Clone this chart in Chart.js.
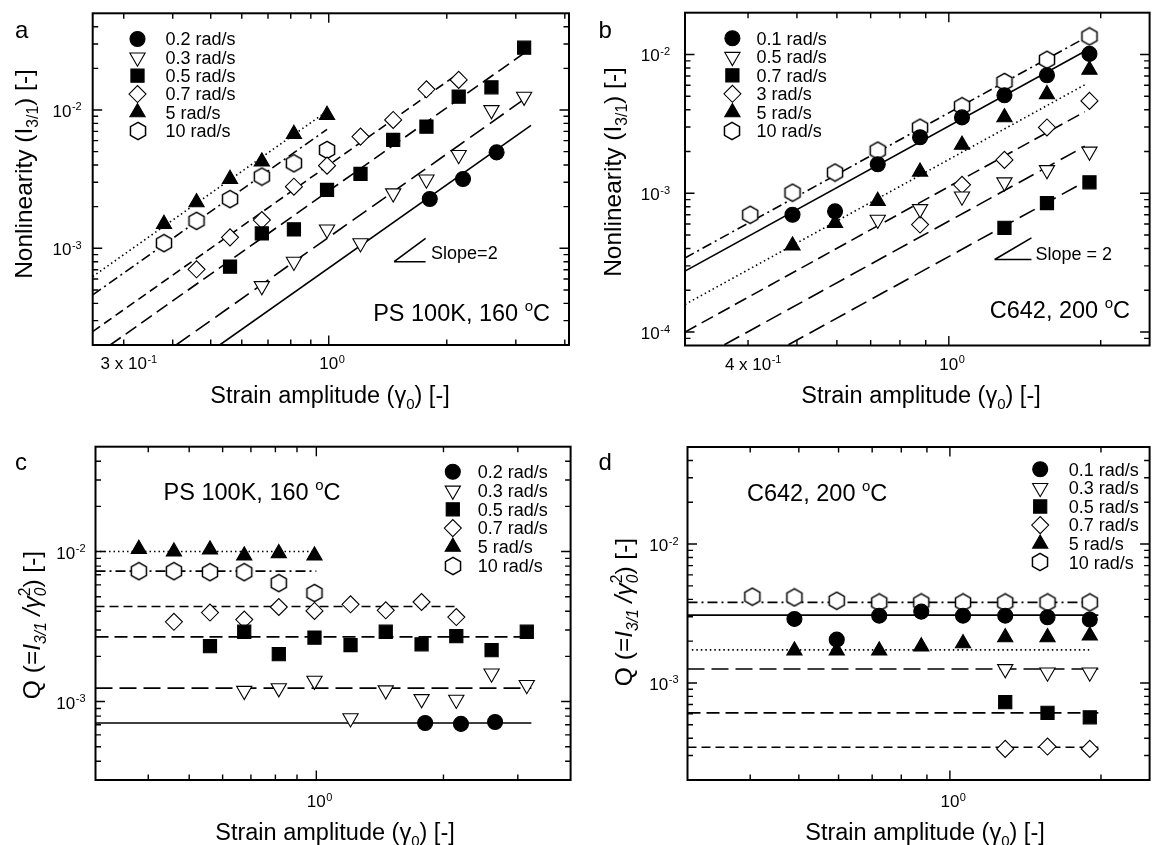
<!DOCTYPE html>
<html>
<head>
<meta charset="utf-8">
<script src="https://cdn.jsdelivr.net/npm/chart.js@4"></script>
<style>
  body { margin: 0; background: #fff; }
  #wrap { position: relative; width: 1160px; height: 845px; }
  #wrap canvas { position: absolute; left: 0; top: 0; }
</style>
</head>
<body>
<div id="wrap">
  <canvas id="pa" width="1160" height="845"></canvas>
  <canvas id="pb" width="1160" height="845"></canvas>
  <canvas id="pc" width="1160" height="845"></canvas>
  <canvas id="pd" width="1160" height="845"></canvas>
</div>
<script>
// ---------- data ----------
// panel a : PS 100K, 160 C, I3/1 vs strain amplitude
const aLabels = ['0.2 rad/s', '0.3 rad/s', '0.5 rad/s', '0.7 rad/s', '5 rad/s', '10 rad/s'];
const aX02 = [1.81, 2.20, 2.68];
const aY02 = [2.27e-3, 3.17e-3, 4.94e-3];
const aX03 = [0.675, 0.815, 0.99, 1.205, 1.46, 1.775, 2.145, 2.6, 3.15];
const aY03 = [5.34e-4, 8.0e-4, 1.37e-3, 1.09e-3, 2.50e-3, 3.15e-3, 4.73e-3, 1.0e-2, 1.25e-2];
const aX05 = [0.56, 0.675, 0.815, 0.99, 1.205, 1.46, 1.775, 2.145, 2.6, 3.15];
const aY05 = [7.37e-4, 1.28e-3, 1.37e-3, 2.64e-3, 3.45e-3, 6.07e-3, 7.58e-3, 1.25e-2, 1.46e-2, 2.82e-2];
const aX07 = [0.46, 0.56, 0.675, 0.815, 0.99, 1.205, 1.46, 1.775, 2.145];
const aY07 = [7.05e-4, 1.20e-3, 1.60e-3, 2.79e-3, 3.96e-3, 6.42e-3, 8.47e-3, 1.41e-2, 1.65e-2];
const aX5 = [0.38, 0.46, 0.56, 0.675, 0.815, 0.99];
const aY5 = [1.50e-3, 2.15e-3, 3.17e-3, 4.23e-3, 6.71e-3, 9.2e-3];
const aX10 = [0.38, 0.46, 0.56, 0.675, 0.815, 0.99];
const aY10 = [1.09e-3, 1.58e-3, 2.27e-3, 3.30e-3, 4.12e-3, 5.14e-3];
// fitted slope-2 lines, end points [x, y]
const aFit02 = [[0.527, 2.0e-4], [3.28, 7.75e-3]];
const aFit03 = [[0.408, 2.0e-4], [3.21, 1.24e-2]];
const aFit05 = [[0.277, 2.0e-4], [3.14, 2.56e-2]];
const aFit07 = [[0.25, 2.5e-4], [2.15, 1.85e-2]];
const aFit5 = [[0.25, 6.25e-4], [0.97, 9.4e-3]];
const aFit10 = [[0.25, 4.6e-4], [0.99, 7.25e-3]];
const aSlope = [[1.468, 8.0e-4], [1.766, 1.18e-3]];

// panel b : C642, 200 C, I3/1 vs strain amplitude
const bLabels = ['0.1 rad/s', '0.5 rad/s', '0.7 rad/s', '3 rad/s', '5 rad/s', '10 rad/s'];
const bX01 = [0.49, 0.595, 0.723, 0.877, 1.062, 1.289, 1.565, 1.90];
const bY01 = [7.0e-4, 7.41e-4, 1.62e-3, 2.53e-3, 3.52e-3, 5.08e-3, 7.08e-3, 1.01e-2];
const bX05 = [0.723, 0.877, 1.062, 1.289, 1.565, 1.90];
const bY05 = [6.46e-4, 7.7e-4, 9.5e-4, 1.20e-3, 1.47e-3, 2.0e-3];
const bX07 = [1.289, 1.565, 1.90];
const bY07 = [5.63e-4, 8.5e-4, 1.20e-3];
const bX3 = [0.877, 1.062, 1.289, 1.565, 1.90];
const bY3 = [5.95e-4, 1.15e-3, 1.74e-3, 2.98e-3, 4.63e-3];
const bX5 = [0.49, 0.595, 0.723, 0.877, 1.062, 1.289, 1.565, 1.90];
const bY5 = [4.2e-4, 6.1e-4, 8.8e-4, 1.43e-3, 2.23e-3, 3.52e-3, 5.17e-3, 7.76e-3];
const bX10 = [0.404, 0.49, 0.595, 0.723, 0.877, 1.062, 1.289, 1.565, 1.90];
const bY10 = [7.0e-4, 1.01e-3, 1.41e-3, 2.03e-3, 2.97e-3, 4.24e-3, 6.34e-3, 9.16e-3, 1.35e-2];
const bFit01 = [[0.3, 2.75e-4], [1.9, 1.10e-2]];
const bFit05 = [[0.359, 8.1e-5], [1.86, 2.18e-3]];
const bFit07 = [[0.481, 8.1e-5], [1.86, 1.21e-3]];
const bFit3 = [[0.3, 1.0e-4], [1.86, 3.87e-3]];
const bFit5 = [[0.3, 1.58e-4], [1.86, 6.05e-3]];
const bFit10 = [[0.3, 3.42e-4], [1.9, 1.37e-2]];
const bSlope = [[1.233, 3.33e-4], [1.458, 4.77e-4]];

// panel c : PS 100K, Q = I3/1 / gamma0^2
const cLabels = ['0.2 rad/s', '0.3 rad/s', '0.5 rad/s', '0.7 rad/s', '5 rad/s', '10 rad/s'];
const cX02 = [1.81, 2.20, 2.65];
const cY02 = [7.2e-4, 7.1e-4, 7.3e-4];
const cX03 = [0.675, 0.815, 0.99, 1.205, 1.46, 1.775, 2.145, 2.6, 3.15];
const cY03 = [1.18e-3, 1.23e-3, 1.38e-3, 7.75e-4, 1.19e-3, 1.04e-3, 1.03e-3, 1.54e-3, 1.29e-3];
const cX05 = [0.56, 0.675, 0.815, 0.99, 1.205, 1.46, 1.775, 2.145, 2.6, 3.15];
const cY05 = [2.34e-3, 2.92e-3, 2.07e-3, 2.67e-3, 2.38e-3, 2.92e-3, 2.41e-3, 2.73e-3, 2.20e-3, 2.92e-3];
const cX07 = [0.46, 0.56, 0.675, 0.815, 0.99, 1.205, 1.46, 1.775, 2.145];
const cY07 = [3.40e-3, 3.92e-3, 3.52e-3, 4.27e-3, 4.02e-3, 4.45e-3, 4.06e-3, 4.61e-3, 3.66e-3];
const cX5 = [0.38, 0.46, 0.56, 0.675, 0.815, 0.99];
const cY5 = [1.04e-2, 1.0e-2, 1.03e-2, 9.4e-3, 9.75e-3, 9.4e-3];
const cX10 = [0.38, 0.46, 0.56, 0.675, 0.815, 0.99];
const cY10 = [7.4e-3, 7.4e-3, 7.29e-3, 7.29e-3, 6.16e-3, 5.29e-3];
const cFit02 = [[0.3, 7.2e-4], [3.23, 7.2e-4]];
const cFit03 = [[0.3, 1.23e-3], [3.23, 1.23e-3]];
const cFit05 = [[0.3, 2.7e-3], [3.26, 2.7e-3]];
const cFit07 = [[0.3, 4.3e-3], [2.15, 4.3e-3]];
const cFit5 = [[0.3, 1.0e-2], [0.99, 1.0e-2]];
const cFit10 = [[0.3, 7.4e-3], [1.0, 7.4e-3]];

// panel d : C642, Q = I3/1 / gamma0^2
const dLabels = ['0.1 rad/s', '0.3 rad/s', '0.5 rad/s', '0.7 rad/s', '5 rad/s', '10 rad/s'];
const dX01 = [0.49, 0.595, 0.723, 0.877, 1.062, 1.289, 1.565, 1.90];
const dY01 = [2.89e-3, 2.05e-3, 3.05e-3, 3.26e-3, 3.05e-3, 3.05e-3, 2.97e-3, 2.86e-3];
const dX03 = [1.289, 1.565, 1.90];
const dY03 = [1.26e-3, 1.19e-3, 1.19e-3];
const dX05 = [1.289, 1.565, 1.90];
const dY05 = [7.26e-4, 6.09e-4, 5.66e-4];
const dX07 = [1.289, 1.565, 1.90];
const dY07 = [3.35e-4, 3.48e-4, 3.35e-4];
const dX5 = [0.49, 0.595, 0.723, 0.877, 1.062, 1.289, 1.565, 1.90];
const dY5 = [1.71e-3, 1.71e-3, 1.71e-3, 1.83e-3, 1.93e-3, 2.13e-3, 2.13e-3, 2.19e-3];
const dX10 = [0.404, 0.49, 0.595, 0.723, 0.877, 1.062, 1.289, 1.565, 1.90];
const dY10 = [4.18e-3, 4.13e-3, 3.91e-3, 3.80e-3, 3.80e-3, 3.80e-3, 3.80e-3, 3.80e-3, 3.80e-3];
const dFit01 = [[0.3, 3.08e-3], [1.976, 3.08e-3]];
const dFit03 = [[0.3, 1.26e-3], [1.976, 1.26e-3]];
const dFit05 = [[0.3, 6.09e-4], [1.976, 6.09e-4]];
const dFit07 = [[0.3, 3.44e-4], [1.976, 3.44e-4]];
const dFit5 = [[0.306, 1.73e-3], [1.895, 1.73e-3]];
const dFit10 = [[0.3, 3.8e-3], [1.91, 3.8e-3]];

// axis ranges and tick values
const aRangeX = [0.25, 4.1], aRangeY = [2e-4, 5e-2];
const bRangeX = [0.3, 2.5], bRangeY = [8e-5, 2e-2];
const cRangeX = [0.3, 4.0], cRangeY = [3e-4, 5e-2];
const dRangeX = [0.3, 2.5], dRangeY = [2e-4, 5e-2];
const aTicksX = [0.3, 0.4, 0.5, 0.6, 0.7, 0.8, 0.9, 1, 2, 3, 4];
const bTicksX = [0.4, 0.5, 0.6, 0.7, 0.8, 0.9, 1, 2];
const cTicksX = [0.4, 0.5, 0.6, 0.7, 0.8, 0.9, 1, 2, 3];
const dTicksX = [0.4, 0.5, 0.6, 0.7, 0.8, 0.9, 1, 2];
const aTicksY = [3e-4, 4e-4, 5e-4, 6e-4, 7e-4, 8e-4, 9e-4, 1e-3, 2e-3, 3e-3, 4e-3, 5e-3, 6e-3, 7e-3, 8e-3, 9e-3, 1e-2, 2e-2, 3e-2, 4e-2];
const bTicksY = [9e-5, 1e-4, 2e-4, 3e-4, 4e-4, 5e-4, 6e-4, 7e-4, 8e-4, 9e-4, 1e-3, 2e-3, 3e-3, 4e-3, 5e-3, 6e-3, 7e-3, 8e-3, 9e-3, 1e-2];
const cTicksY = [4e-4, 5e-4, 6e-4, 7e-4, 8e-4, 9e-4, 1e-3, 2e-3, 3e-3, 4e-3, 5e-3, 6e-3, 7e-3, 8e-3, 9e-3, 1e-2, 2e-2, 3e-2, 4e-2];
const dTicksY = aTicksY;
const majorTicks = [1e-4, 1e-3, 1e-2, 1];
// tick labels: [value, text, superscript]
const aLabelsX = [[0.3, '3 x 10', '-1'], [1, '10', '0']];
const bLabelsX = [[0.4, '4 x 10', '-1'], [1, '10', '0']];
const cdLabelsX = [[1, '10', '0']];
const aLabelsY = [[1e-3, '10', '-3'], [1e-2, '10', '-2']];
const bLabelsY = [[1e-4, '10', '-4'], [1e-3, '10', '-3'], [1e-2, '10', '-2']];

// ---------- styles ----------
const FONT = '"Liberation Sans", Arial, Helvetica, sans-serif';

const HEX = document.createElement('canvas');
HEX.width = 20; HEX.height = 20;
(function () {
  const c = HEX.getContext('2d');
  const R = 8.7;
  c.beginPath();
  for (let k = 0; k < 6; k++) {
    const a = Math.PI / 2 + k * Math.PI / 3;
    const px = 10 + R * Math.cos(a), py = 10 - R * Math.sin(a);
    if (k) c.lineTo(px, py); else c.moveTo(px, py);
  }
  c.closePath();
  c.fillStyle = '#fff'; c.fill();
  c.strokeStyle = '#000'; c.lineWidth = 1.5; c.stroke();
})();

// marker order: circle, open down-triangle, square, open diamond, triangle, open hexagon
const MARKERS = [
  { style: 'circle', r: 7.5, rot: 0, fill: '#000', order: 2 },
  { style: 'triangle', r: 8.8, rot: 180, fill: '#fff', order: 3 },
  { style: 'rect', r: 9.3, rot: 0, fill: '#000', order: 4 },
  { style: 'rectRot', r: 8.5, rot: 0, fill: '#fff', order: 5 },
  { style: 'triangle', r: 8.8, rot: 0, fill: '#000', order: 1 },
  { style: HEX, r: 8, rot: 0, fill: '#fff', order: 6 }
];
const DASH = {
  solid: [], long: [17, 7], med: [13, 6], short: [9, 5],
  dot: [1.5, 3], dashdot: [10, 4, 2, 4]
};

function pts(xs, ys) { return xs.map((x, i) => ({ x: x, y: ys[i] })); }

function markerSet(label, xs, ys, m) {
  return {
    label: label, data: pts(xs, ys), showLine: false,
    pointStyle: m.style, pointRadius: m.r, pointRotation: m.rot,
    pointBackgroundColor: m.fill, pointBorderColor: '#000', pointBorderWidth: 1.1,
    order: m.order
  };
}
function lineSet(ends, dash) {
  return {
    data: ends.map(p => ({ x: p[0], y: p[1] })), showLine: true, pointRadius: 0,
    borderColor: '#000', borderWidth: 1.6, borderDash: dash, fill: false, order: 10
  };
}
function slopeSets(s) {
  return [lineSet(s, DASH.solid), lineSet([s[0], [s[1][0], s[0][1]]], DASH.solid)];
}

// ---------- text helpers ----------
function richLayout(ctx, segs, size) {
  const items = [];
  let w = 0, prevStart = 0;
  for (const s of segs) {
    const sz = (s.sub || s.sup) ? size * 0.64 : size;
    const font = (s.it ? 'italic ' : '') + sz.toFixed(1) + 'px ' + FONT;
    ctx.font = font;
    const sw = ctx.measureText(s.t).width;
    let x0;
    if (s.stack) { x0 = prevStart; w = Math.max(w, prevStart + sw); }
    else { x0 = w; prevStart = x0; w += sw; }
    const dy = s.sub ? size * 0.25 : s.sup ? -size * 0.42 : 0;
    items.push({ t: s.t, font: font, x0: x0, dy: dy });
  }
  return { items: items, w: w };
}
function drawRich(ctx, segs, x, y, size, align) {
  const L = richLayout(ctx, segs, size);
  const sx = align === 'center' ? x - L.w / 2 : align === 'right' ? x - L.w : x;
  ctx.textAlign = 'left'; ctx.textBaseline = 'alphabetic';
  for (const it of L.items) { ctx.font = it.font; ctx.fillText(it.t, sx + it.x0, y + it.dy); }
}
function drawMarker(ctx, m, x, y) {
  if (typeof m.style !== 'string') {
    ctx.drawImage(m.style, Math.round(x - m.style.width / 2), Math.round(y - m.style.height / 2));
    return;
  }
  const r = m.r;
  let a = m.rot * Math.PI / 180;
  ctx.beginPath();
  if (m.style === 'circle') {
    ctx.arc(x, y, r, 0, Math.PI * 2);
  } else if (m.style === 'triangle') {
    ctx.moveTo(x + Math.sin(a) * r, y - Math.cos(a) * r);
    a += Math.PI * 2 / 3;
    ctx.lineTo(x + Math.sin(a) * r, y - Math.cos(a) * r);
    a += Math.PI * 2 / 3;
    ctx.lineTo(x + Math.sin(a) * r, y - Math.cos(a) * r);
    ctx.closePath();
  } else if (m.style === 'rect') {
    const s = Math.SQRT1_2 * r;
    ctx.rect(x - s, y - s, 2 * s, 2 * s);
  } else {
    ctx.moveTo(x - r, y); ctx.lineTo(x, y - r); ctx.lineTo(x + r, y); ctx.lineTo(x, y + r);
    ctx.closePath();
  }
  ctx.fillStyle = m.fill; ctx.fill();
  ctx.strokeStyle = '#000'; ctx.lineWidth = 1.1; ctx.stroke();
}

// ---------- decorations: frame, ticks, labels, legend, notes ----------
function makeDeco(P) {
  return {
    id: 'deco' + P.id,
    afterDraw(chart) {
      const ctx = chart.ctx, ca = chart.chartArea;
      const xs = chart.scales.x, ys = chart.scales.y;
      ctx.save();
      ctx.fillStyle = '#000';
      ctx.strokeStyle = '#000';

      // inward ticks on all four sides
      ctx.lineWidth = 1.4;
      ctx.beginPath();
      P.ticksX.forEach(v => {
        const px = xs.getPixelForValue(v);
        const len = majorTicks.includes(v) ? 9.5 : 5.5;
        ctx.moveTo(px, ca.bottom); ctx.lineTo(px, ca.bottom - len);
        ctx.moveTo(px, ca.top); ctx.lineTo(px, ca.top + len);
      });
      P.ticksY.forEach(v => {
        const py = ys.getPixelForValue(v);
        const len = majorTicks.includes(v) ? 9.5 : 5.5;
        ctx.moveTo(ca.left, py); ctx.lineTo(ca.left + len, py);
        ctx.moveTo(ca.right, py); ctx.lineTo(ca.right - len, py);
      });
      ctx.stroke();

      // frame
      ctx.lineWidth = 2;
      ctx.strokeRect(ca.left, ca.top, ca.right - ca.left, ca.bottom - ca.top);

      // tick labels
      ctx.textBaseline = 'alphabetic';
      P.labelsX.forEach(l => {
        const px = xs.getPixelForValue(l[0]);
        ctx.font = '17px ' + FONT;
        const mw = ctx.measureText(l[1]).width;
        ctx.textAlign = 'left';
        ctx.fillText(l[1], px - mw / 2, ca.bottom + P.xLabelDy);
        ctx.font = '11px ' + FONT;
        ctx.fillText(l[2], px + mw / 2 + 0.5, ca.bottom + P.xLabelDy - 6.5);
      });
      P.labelsY.forEach(l => {
        const py = ys.getPixelForValue(l[0]);
        ctx.font = '11px ' + FONT;
        const sw = ctx.measureText(l[2]).width;
        ctx.font = '17px ' + FONT;
        const mw = ctx.measureText(l[1]).width;
        const x0 = ca.left - P.yLabelGap - sw - mw - 0.5;
        ctx.textAlign = 'left';
        ctx.fillText(l[1], x0, py + 7);
        ctx.font = '11px ' + FONT;
        ctx.fillText(l[2], x0 + mw + 0.5, py + 0.5);
      });

      // axis titles
      drawRich(ctx, P.xTitle, P.xTitlePos[0], P.xTitlePos[1], 23.5, 'center');
      ctx.save();
      ctx.translate(P.yTitlePos[0], P.yTitlePos[1]);
      ctx.rotate(-Math.PI / 2);
      drawRich(ctx, P.yTitle, 0, 0, P.yTitleSize, 'center');
      ctx.restore();

      // panel letter
      ctx.font = '24px ' + FONT;
      ctx.textAlign = 'left';
      ctx.fillText(P.letter, P.letterPos[0], P.letterPos[1]);

      // legend
      P.legend.labels.forEach((txt, i) => {
        const y = P.legend.y0 + i * P.legend.dy;
        drawMarker(ctx, MARKERS[i], P.legend.mx, y);
        ctx.fillStyle = '#000';
        ctx.font = '18px ' + FONT;
        ctx.textAlign = 'left';
        ctx.fillText(txt, P.legend.tx, y + 6.3);
      });

      // sample note
      ctx.fillStyle = '#000';
      drawRich(ctx, P.note, P.notePos[0], P.notePos[1], 23.5, P.noteAlign);

      // slope label next to the slope triangle
      if (P.slope) {
        const px = xs.getPixelForValue(P.slope.ends[1][0]);
        const py = ys.getPixelForValue(P.slope.ends[0][1]);
        ctx.font = '18px ' + FONT;
        ctx.textAlign = 'left';
        ctx.fillText(P.slope.text, px + P.slope.dx, py + P.slope.dy);
      }
      ctx.restore();
    }
  };
}

function makePanel(P, datasets) {
  const W = 1160, H = 845;
  new Chart(document.getElementById(P.id), {
    type: 'scatter',
    data: { datasets: datasets },
    options: {
      responsive: false, animation: false, devicePixelRatio: 1, events: [],
      layout: { padding: { left: P.box.l, top: P.box.t, right: W - P.box.r, bottom: H - P.box.b } },
      plugins: { legend: { display: false }, tooltip: { enabled: false }, title: { display: false } },
      scales: {
        x: { type: 'logarithmic', min: P.rangeX[0], max: P.rangeX[1], display: false },
        y: { type: 'logarithmic', min: P.rangeY[0], max: P.rangeY[1], display: false }
      }
    },
    plugins: [makeDeco(P)]
  });
}

const xTitle = [{ t: 'Strain amplitude (\u03b3' }, { t: '0', sub: 1 }, { t: ') [-]' }];
const nlTitle = [{ t: 'Nonlinearity (I' }, { t: '3/1', sub: 1 }, { t: ') [-]' }];
const qTitle = [{ t: 'Q (=' }, { t: 'I', it: 1 }, { t: '3/1', sub: 1, it: 1 }, { t: ' /\u03b3', it: 1 },
  { t: '0', sub: 1, it: 1 }, { t: '2', sup: 1, stack: 1 }, { t: ') [-]' }];
const psNote = [{ t: 'PS 100K, 160 ' }, { t: 'o', sup: 1 }, { t: 'C' }];
const cNote = [{ t: 'C642, 200 ' }, { t: 'o', sup: 1 }, { t: 'C' }];

// ---------- panel a ----------
makePanel({
  id: 'pa', box: { l: 92.7, t: 13.3, r: 569, b: 345 }, rangeX: aRangeX, rangeY: aRangeY,
  ticksX: aTicksX, ticksY: aTicksY, labelsX: aLabelsX, labelsY: aLabelsY,
  xLabelDy: 24, yLabelGap: 11,
  xTitle: xTitle, xTitlePos: [330, 403], yTitle: nlTitle, yTitlePos: [31.5, 174], yTitleSize: 24.5,
  letter: 'a', letterPos: [15, 38],
  legend: { labels: aLabels, mx: 137.5, tx: 165.4, y0: 39, dy: 18.35 },
  note: psNote, notePos: [550, 321], noteAlign: 'right',
  slope: { ends: aSlope, text: 'Slope=2', dx: 5.5, dy: -3 }
}, [
  markerSet(aLabels[0], aX02, aY02, MARKERS[0]),
  markerSet(aLabels[1], aX03, aY03, MARKERS[1]),
  markerSet(aLabels[2], aX05, aY05, MARKERS[2]),
  markerSet(aLabels[3], aX07, aY07, MARKERS[3]),
  markerSet(aLabels[4], aX5, aY5, MARKERS[4]),
  markerSet(aLabels[5], aX10, aY10, MARKERS[5]),
  lineSet(aFit02, DASH.solid), lineSet(aFit03, DASH.long), lineSet(aFit05, DASH.med),
  lineSet(aFit07, DASH.short), lineSet(aFit5, DASH.dot), lineSet(aFit10, DASH.dashdot),
  ...slopeSets(aSlope)
]);

// ---------- panel b ----------
makePanel({
  id: 'pb', box: { l: 685, t: 12.7, r: 1157.5, b: 345.5 }, rangeX: bRangeX, rangeY: bRangeY,
  ticksX: bTicksX, ticksY: bTicksY, labelsX: bLabelsX, labelsY: bLabelsY,
  xLabelDy: 24, yLabelGap: 15,
  xTitle: xTitle, xTitlePos: [921, 403], yTitle: nlTitle, yTitlePos: [620.5, 172], yTitleSize: 24.5,
  letter: 'b', letterPos: [598.6, 38],
  legend: { labels: bLabels, mx: 732.4, tx: 756.6, y0: 38.3, dy: 18.5 },
  note: cNote, notePos: [1130, 318], noteAlign: 'right',
  slope: { ends: bSlope, text: 'Slope = 2', dx: 4, dy: 0.5 }
}, [
  markerSet(bLabels[0], bX01, bY01, MARKERS[0]),
  markerSet(bLabels[1], bX05, bY05, MARKERS[1]),
  markerSet(bLabels[2], bX07, bY07, MARKERS[2]),
  markerSet(bLabels[3], bX3, bY3, MARKERS[3]),
  markerSet(bLabels[4], bX5, bY5, MARKERS[4]),
  markerSet(bLabels[5], bX10, bY10, MARKERS[5]),
  lineSet(bFit01, DASH.solid), lineSet(bFit05, DASH.long), lineSet(bFit07, DASH.long),
  lineSet(bFit3, DASH.med), lineSet(bFit5, DASH.dot), lineSet(bFit10, DASH.dashdot),
  ...slopeSets(bSlope)
]);

// ---------- panel c ----------
makePanel({
  id: 'pc', box: { l: 95.5, t: 446.7, r: 570.6, b: 780 }, rangeX: cRangeX, rangeY: cRangeY,
  ticksX: cTicksX, ticksY: cTicksY, labelsX: cdLabelsX, labelsY: aLabelsY,
  xLabelDy: 27, yLabelGap: 10,
  xTitle: xTitle, xTitlePos: [335, 840], yTitle: qTitle, yTitlePos: [40, 625], yTitleSize: 24.5,
  letter: 'c', letterPos: [15, 470],
  legend: { labels: cLabels, mx: 452.8, tx: 477.7, y0: 471.7, dy: 18.8 },
  note: psNote, notePos: [163.6, 499.7], noteAlign: 'left'
}, [
  markerSet(cLabels[0], cX02, cY02, MARKERS[0]),
  markerSet(cLabels[1], cX03, cY03, MARKERS[1]),
  markerSet(cLabels[2], cX05, cY05, MARKERS[2]),
  markerSet(cLabels[3], cX07, cY07, MARKERS[3]),
  markerSet(cLabels[4], cX5, cY5, MARKERS[4]),
  markerSet(cLabels[5], cX10, cY10, MARKERS[5]),
  lineSet(cFit02, DASH.solid), lineSet(cFit03, DASH.long), lineSet(cFit05, DASH.med),
  lineSet(cFit07, DASH.short), lineSet(cFit5, DASH.dot), lineSet(cFit10, DASH.dashdot)
]);

// ---------- panel d ----------
makePanel({
  id: 'pd', box: { l: 687.5, t: 447, r: 1159, b: 780 }, rangeX: dRangeX, rangeY: dRangeY,
  ticksX: dTicksX, ticksY: dTicksY, labelsX: cdLabelsX, labelsY: aLabelsY,
  xLabelDy: 27, yLabelGap: 9,
  xTitle: xTitle, xTitlePos: [925, 840], yTitle: qTitle, yTitlePos: [632, 612], yTitleSize: 24.5,
  letter: 'd', letterPos: [598.6, 470],
  legend: { labels: dLabels, mx: 1040.2, tx: 1068.8, y0: 469.3, dy: 18.6 },
  note: cNote, notePos: [747, 500.7], noteAlign: 'left'
}, [
  markerSet(dLabels[0], dX01, dY01, MARKERS[0]),
  markerSet(dLabels[1], dX03, dY03, MARKERS[1]),
  markerSet(dLabels[2], dX05, dY05, MARKERS[2]),
  markerSet(dLabels[3], dX07, dY07, MARKERS[3]),
  markerSet(dLabels[4], dX5, dY5, MARKERS[4]),
  markerSet(dLabels[5], dX10, dY10, MARKERS[5]),
  lineSet(dFit01, DASH.solid), lineSet(dFit03, DASH.long), lineSet(dFit05, DASH.med),
  lineSet(dFit07, DASH.short), lineSet(dFit5, DASH.dot), lineSet(dFit10, DASH.dashdot)
]);
</script>
</body>
</html>
